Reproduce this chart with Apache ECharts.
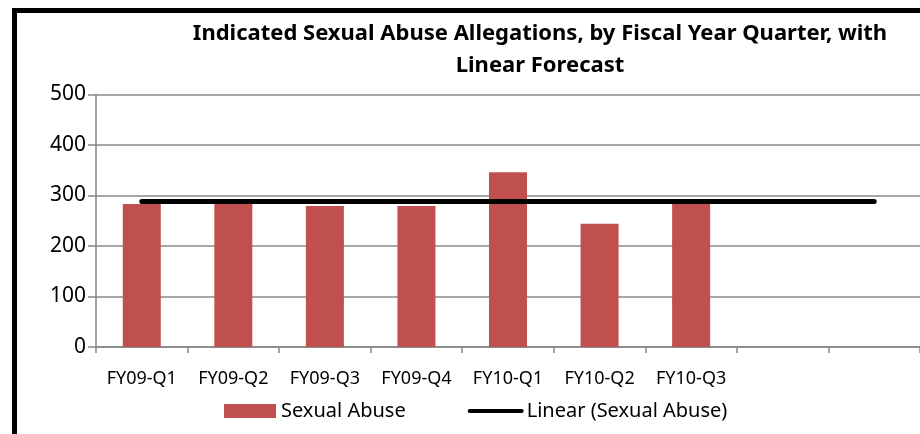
<!DOCTYPE html>
<html>
<head>
<meta charset="utf-8">
<script src="https://cdn.jsdelivr.net/npm/echarts@6/dist/echarts.min.js"></script>
<style>
html,body{margin:0;padding:0;background:#fff;}
#chart{width:920px;height:434px;}
</style>
</head>
<body>
<div id="chart"></div>
<script>
// Data
var categories = ['FY09-Q1','FY09-Q2','FY09-Q3','FY09-Q4','FY10-Q1','FY10-Q2','FY10-Q3','',''];
var sexualAbuse = [283, 285, 279, 279, 346, 244, 289, null, null];
// Linear trend line (2 forecast periods), read at its start and end
var trendStart = 288;
var trendEnd = 288;
var trendLine = [trendStart, null, null, null, null, null, null, null, trendEnd];
var yTicks = [0, 100, 200, 300, 400, 500];

var FONT = 'Noto Sans';
var chart = echarts.init(document.getElementById('chart'));
chart.setOption({
  animation: false,
  backgroundColor: '#ffffff',
  title: {
    text: 'Indicated Sexual Abuse Allegations, by Fiscal Year Quarter, with\nLinear Forecast',
    left: 535, top: 13, textAlign: 'center',
    textStyle: { fontFamily: FONT, fontSize: 22, fontWeight: 'bold', color: '#000', lineHeight: 32 }
  },
  graphic: [{
    type: 'rect', silent: true,
    shape: { x: 14.5, y: 10.5, width: 1200, height: 1200 },
    style: { fill: 'none', stroke: '#000', lineWidth: 5 }
  }],
  legend: {
    left: 219, top: 396, itemWidth: 52, itemHeight: 14, itemGap: 62,
    textStyle: { fontFamily: FONT, fontSize: 20, color: '#000' },
    data: [
      { name: 'Sexual Abuse', icon: 'rect' },
      { name: 'Linear (Sexual Abuse)', itemStyle: { opacity: 0 }, lineStyle: { color: '#000', width: 4 } }
    ]
  },
  grid: { left: 96, top: 94.5, width: 831, height: 252.5, containLabel: false },
  xAxis: {
    type: 'category', data: categories, boundaryGap: true,
    axisLine: { lineStyle: { color: '#868686', width: 1.5 } },
    axisTick: { show: true, length: 6, alignWithLabel: false, lineStyle: { color: '#868686', width: 1.5 } },
    axisLabel: { fontFamily: FONT, fontSize: 18, color: '#000', margin: 23, interval: 0 },
    splitLine: { show: false }
  },
  yAxis: {
    type: 'value', min: yTicks[0], max: yTicks[yTicks.length - 1], interval: 100,
    axisLine: { show: true, lineStyle: { color: '#868686', width: 1.5 } },
    axisTick: { show: true, inside: false, length: 8, lineStyle: { color: '#868686', width: 1.5 } },
    axisLabel: { fontFamily: FONT, fontSize: 21, color: '#000', margin: 10 },
    splitLine: { show: true, lineStyle: { color: '#8a8a8a', width: 1.5 } }
  },
  series: [
    {
      name: 'Sexual Abuse', type: 'bar', data: sexualAbuse, barWidth: 38,
      itemStyle: { color: '#C0504D' }
    },
    {
      name: 'Linear (Sexual Abuse)', type: 'line', data: trendLine, connectNulls: true,
      symbol: 'none', showSymbol: false,
      lineStyle: { color: '#000', width: 5, cap: 'round' },
      itemStyle: { color: '#000' }, z: 5
    }
  ]
});
</script>
</body>
</html>
